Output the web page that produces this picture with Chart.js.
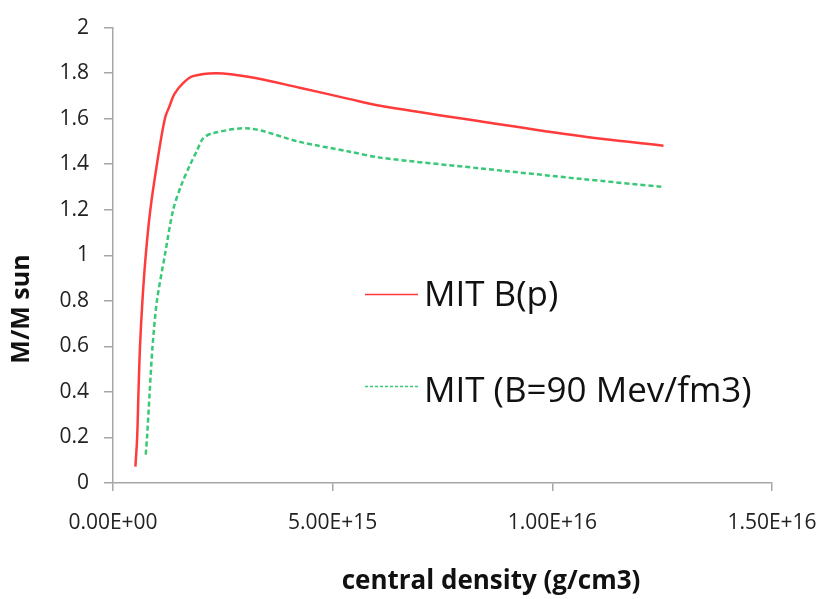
<!DOCTYPE html>
<html>
<head>
<meta charset="utf-8">
<script src="https://cdn.jsdelivr.net/npm/chart.js@4.4.1/dist/chart.umd.min.js"></script>
<style>
  html, body { margin: 0; padding: 0; background: #fff; }
  #wrap { width: 829px; height: 599px; position: relative; }
</style>
</head>
<body>
<div id="wrap"><canvas id="grafico"></canvas></div>
<script>
// Densidad central (g/cm3) y masa M/Msun
const redX = [0.51e15, 0.55e15, 0.58e15, 0.615e15, 0.67e15, 0.745e15, 0.85e15, 1.0e15, 1.18e15, 1.29e15, 1.40e15, 1.60e15, 1.82e15, 2.36e15, 3.11e15, 4.25e15, 5.39e15, 6.08e15, 8.35e15, 10.63e15, 12.53e15];
const redY = [0.072, 0.2, 0.4, 0.6, 0.8, 1.0, 1.2, 1.4, 1.6, 1.657, 1.709, 1.757, 1.787, 1.80, 1.783, 1.736, 1.686, 1.657, 1.589, 1.524, 1.481];

const greenX = [0.745e15, 0.775e15, 0.835e15, 0.90e15, 1.0e15, 1.18e15, 1.37e15, 1.56e15, 1.76e15, 1.90e15, 2.05e15, 2.28e15, 3.11e15, 4.25e15, 5.39e15, 6.08e15, 8.35e15, 10.63e15, 12.52e15];
const greenY = [0.125, 0.2, 0.4, 0.6, 0.8, 1.0, 1.2, 1.311, 1.40, 1.455, 1.513, 1.537, 1.557, 1.498, 1.455, 1.429, 1.382, 1.336, 1.30];

const seriesNames = ['MIT B(p)', 'MIT (B=90 Mev/fm3)'];

const yTicks = [0, 0.2, 0.4, 0.6, 0.8, 1, 1.2, 1.4, 1.6, 1.8, 2];
const yTickLabels = ['0', '0.2', '0.4', '0.6', '0.8', '1', '1.2', '1.4', '1.6', '1.8', '2'];
const xTicks = [0, 5e15, 1e16, 1.5e16];
const xTickLabels = ['0.00E+00', '5.00E+15', '1.00E+16', '1.50E+16'];

const xTitle = 'central density (g/cm3)';
const yTitle = 'M/M sun';

const rojo = '#ff3b3b';
const verde = '#38c878';
const gris = '#a6a6a6';
const fuente = "'Open Sans', sans-serif";

function puntos(xs, ys) {
  return xs.map((x, i) => ({ x: x, y: ys[i] }));
}

// leyenda dentro del grafico y titulos de ejes
const extras = {
  id: 'extras',
  afterDraw(chart) {
    const ctx = chart.ctx;
    ctx.save();
    ctx.fillStyle = '#111';
    ctx.textBaseline = 'alphabetic';
    ctx.textAlign = 'left';
    ctx.font = '35px ' + fuente;

    // linea roja
    ctx.strokeStyle = rojo;
    ctx.lineWidth = 1.5;
    ctx.setLineDash([]);
    ctx.beginPath(); ctx.moveTo(365, 294.5); ctx.lineTo(418, 294.5); ctx.stroke();
    ctx.fillText(chart.data.datasets[0].label, 424, 306);

    // linea verde punteada
    ctx.strokeStyle = verde;
    ctx.setLineDash([3, 2]);
    ctx.beginPath(); ctx.moveTo(365, 386.5); ctx.lineTo(418, 386.5); ctx.stroke();
    ctx.setLineDash([]);
    ctx.fillText(chart.data.datasets[1].label, 424, 402);

    ctx.font = 'bold 26px ' + fuente;
    ctx.textAlign = 'center';
    ctx.textBaseline = 'middle';
    ctx.fillText(xTitle, 491, 582);

    ctx.font = 'bold 25px ' + fuente;
    ctx.translate(22, 309);
    ctx.rotate(-Math.PI / 2);
    ctx.fillText(yTitle, 0, 0);
    ctx.restore();
  }
};

new Chart(document.getElementById('grafico'), {
  type: 'scatter',
  data: {
    datasets: [
      {
        label: seriesNames[0],
        data: puntos(redX, redY),
        showLine: true,
        borderColor: rojo,
        borderWidth: 2.5,
        pointRadius: 0,
        tension: 0.35,
        fill: false
      },
      {
        label: seriesNames[1],
        data: puntos(greenX, greenY),
        showLine: true,
        borderColor: verde,
        borderWidth: 2.5,
        borderDash: [5, 3],
        pointRadius: 0,
        tension: 0.3,
        fill: false
      }
    ]
  },
  options: {
    responsive: true,
    maintainAspectRatio: false,
    animation: false,
    layout: { padding: { left: 0, right: 57, top: 21, bottom: 0 } },
    plugins: {
      legend: { display: false },
      tooltip: { enabled: false }
    },
    scales: {
      x: {
        type: 'linear',
        min: 0,
        max: 1.5e16,
        afterBuildTicks: (s) => { s.ticks = xTicks.map(v => ({ value: v })); },
        afterFit: (s) => { s.height = 116; s.paddingLeft = 0; s.paddingRight = 0; },
        ticks: {
          callback: (v, i) => xTickLabels[i],
          color: '#222',
          font: { family: fuente, size: 21 },
          padding: 19,
          maxRotation: 0,
          autoSkip: false
        },
        grid: { drawOnChartArea: false, drawTicks: true, tickLength: 8, color: gris, lineWidth: 1.5 },
        border: { display: true, color: gris, width: 1.5 }
      },
      y: {
        min: 0,
        max: 2,
        afterBuildTicks: (s) => { s.ticks = yTicks.map(v => ({ value: v })); },
        afterFit: (s) => { s.width = 113; },
        ticks: {
          callback: (v, i) => yTickLabels[i],
          color: '#222',
          font: { family: fuente, size: 21 },
          padding: 15,
          autoSkip: false
        },
        grid: { drawOnChartArea: false, drawTicks: true, tickLength: 9, color: gris, lineWidth: 1.5 },
        border: { display: true, color: gris, width: 1.5 }
      }
    }
  },
  plugins: [extras]
});
</script>
</body>
</html>
